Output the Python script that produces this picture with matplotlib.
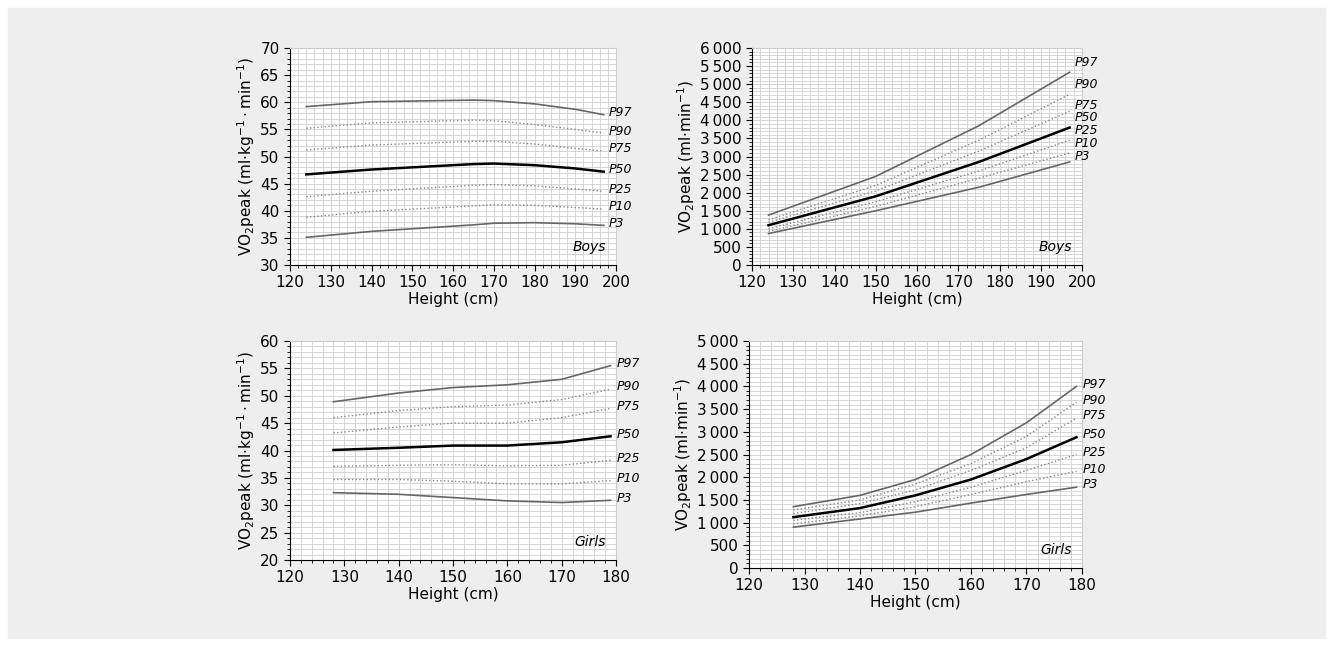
import numpy as np
import matplotlib.pyplot as plt
from matplotlib.ticker import MultipleLocator, FuncFormatter
from matplotlib.patches import Rectangle

labels = ['P97', 'P90', 'P75', 'P50', 'P25', 'P10', 'P3']

# Boys, relative
boys_x_rel = [124, 140, 165, 170, 180, 190, 197]
boys_rel = [
    [59.2, 60.1, 60.4, 60.3, 59.7, 58.7, 57.7],
    [55.2, 56.2, 56.7, 56.6, 55.9, 55.0, 54.3],
    [51.2, 52.1, 52.8, 52.8, 52.3, 51.5, 51.0],
    [46.7, 47.6, 48.6, 48.7, 48.4, 47.8, 47.2],
    [42.6, 43.6, 44.7, 44.8, 44.6, 44.0, 43.6],
    [38.8, 39.9, 40.9, 41.1, 41.0, 40.6, 40.3],
    [35.1, 36.2, 37.4, 37.7, 37.8, 37.6, 37.3],
]
# Boys, absolute
boys_x_abs = [124, 150, 175, 197]
boys_abs = [
    [1380, 2450, 3850, 5330],
    [1250, 2200, 3450, 4720],
    [1180, 2050, 3150, 4250],
    [1100, 1900, 2850, 3800],
    [1000, 1750, 2600, 3450],
    [930, 1620, 2400, 3100],
    [870, 1500, 2150, 2850],
]
# Girls, relative
girls_x = [128, 140, 150, 160, 170, 179]
girls_rel = [
    [48.9, 50.5, 51.5, 52.0, 53.0, 55.5],
    [46.0, 47.3, 48.0, 48.3, 49.3, 51.2],
    [43.2, 44.3, 45.0, 45.0, 46.0, 47.7],
    [40.1, 40.5, 40.9, 40.9, 41.5, 42.6],
    [37.1, 37.3, 37.4, 37.2, 37.3, 38.2],
    [34.7, 34.7, 34.4, 33.9, 33.9, 34.5],
    [32.3, 32.0, 31.4, 30.8, 30.5, 30.9],
]
# Girls, absolute
girls_x_abs = [128, 140, 150, 160, 170, 179]
girls_abs = [
    [1350, 1600, 1950, 2500, 3200, 4000],
    [1280, 1500, 1850, 2300, 2900, 3650],
    [1200, 1420, 1720, 2150, 2650, 3300],
    [1120, 1320, 1600, 1950, 2400, 2880],
    [1050, 1220, 1460, 1780, 2150, 2500],
    [970, 1150, 1350, 1620, 1900, 2130],
    [900, 1080, 1230, 1430, 1620, 1780],
]

W, H = 1333, 646
fig = plt.figure(figsize=(W / 100, H / 100), dpi=100)
fig.patches.append(Rectangle((8 / W, 8 / H), 1 - 16 / W, 1 - 16 / H,
                             transform=fig.transFigure, color='#eeeeee', zorder=-10))

def px(x0, y0, x1, y1):
    return [x0 / W, 1 - y1 / H, (x1 - x0) / W, (y1 - y0) / H]

rel_label = r'VO$_2$peak (ml$\cdot$kg$^{-1}\cdot$min$^{-1}$)'
abs_label = r'VO$_2$peak (ml$\cdot$min$^{-1}$)'
thou = FuncFormatter(lambda v, p: f'{int(v):,}'.replace(',', '\u2009'))

def panel(rect, xs, series, xlim, ylim, ymaj, ymin, ylabel, name, absolute, label_y=None):
    ax = fig.add_axes(px(*rect))
    ax.set_facecolor('white')
    for i, (lab, ys) in enumerate(zip(labels, series)):
        if lab == 'P50':
            ax.plot(xs, ys, color='black', lw=1.8)
        elif lab in ('P97', 'P3'):
            ax.plot(xs, ys, color='#666666', lw=1.2)
        else:
            ax.plot(xs, ys, color='#888888', lw=1.0, ls=':')
        ly = label_y[i] if label_y else ys[-1] + (ylim[1] - ylim[0]) * 0.01
        ax.text(xs[-1] + 1.2, ly, lab,
                style='italic', fontsize=9, va='center', ha='left', clip_on=False)
    ax.set_xlim(*xlim)
    ax.set_ylim(*ylim)
    ax.xaxis.set_major_locator(MultipleLocator(10))
    ax.xaxis.set_minor_locator(MultipleLocator(2))
    ax.yaxis.set_major_locator(MultipleLocator(ymaj))
    ax.yaxis.set_minor_locator(MultipleLocator(ymin))
    if absolute:
        ax.yaxis.set_major_formatter(thou)
    ax.grid(which='both', color='#d0d0d0', lw=0.6)
    ax.set_axisbelow(True)
    for s in ('top', 'right'):
        ax.spines[s].set_color('#cccccc')
    ax.tick_params(labelsize=11, length=4)
    ax.tick_params(which='minor', length=2)
    ax.set_xlabel('Height (cm)', fontsize=11, labelpad=1)
    ax.set_ylabel(ylabel, fontsize=11, labelpad=2)
    ax.text(0.97, 0.05, name, transform=ax.transAxes, style='italic',
            fontsize=10, ha='right', va='bottom')

panel((290, 48, 616, 265), boys_x_rel, boys_rel, (120, 200), (30, 70), 5, 1, rel_label, 'Boys', False)
panel((752, 48, 1082, 265), boys_x_abs, boys_abs, (120, 200), (0, 6000), 500, 100, abs_label, 'Boys', True,
      label_y=[5590, 4980, 4420, 4070, 3710, 3350, 3010])
panel((290, 341, 616, 560), girls_x, girls_rel, (120, 180), (20, 60), 5, 1, rel_label, 'Girls', False)
panel((749, 341, 1082, 568), girls_x_abs, girls_abs, (120, 180), (0, 5000), 500, 100, abs_label, 'Girls', True)

fig.savefig('out.png', dpi=100)
